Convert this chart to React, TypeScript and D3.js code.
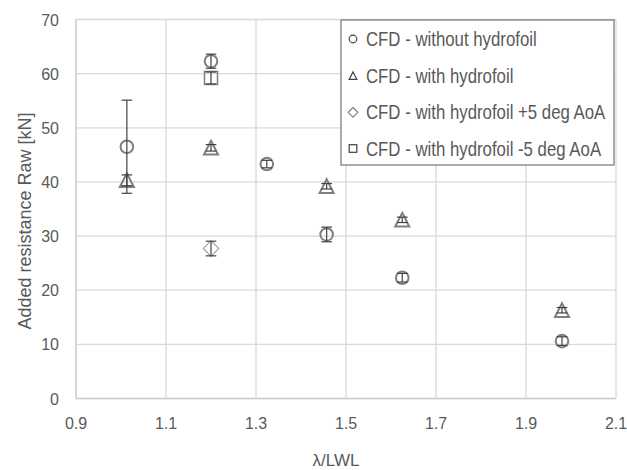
import React from "react";
import * as d3 from "d3";

const xTicks = [0.9, 1.1, 1.3, 1.5, 1.7, 1.9, 2.1];
const yTicks = [0, 10, 20, 30, 40, 50, 60, 70];

const withoutX = [1.013, 1.2, 1.324, 1.457, 1.625, 1.98];
const withoutY = [46.5, 62.3, 43.3, 30.3, 22.3, 10.6];
const withoutErr = [8.6, 1.3, 0.7, 1.35, 0.8, 0.8];

const withX = [1.013, 1.2, 1.457, 1.625, 1.98];
const withY = [40.3, 46.3, 39.2, 33.0, 16.3];
const withErr = [1.0, 0.6, 0.5, 0.5, 0.5];

const plusX = [1.2];
const plusY = [27.7];
const plusErr = [1.35];

const minusX = [1.2];
const minusY = [59.2];
const minusErr = [1.1];

const legendLabels = [
  "CFD - without hydrofoil",
  "CFD - with hydrofoil",
  "CFD - with hydrofoil +5 deg AoA",
  "CFD - with hydrofoil -5 deg AoA",
];

const W = 627;
const H = 470;
const left = 76;
const right = 616;
const top = 19.5;
const bottom = 398.5;

const FONT = "'Liberation Sans', Arial, sans-serif";
const TEXT = "#595959";
const GRID = "#d9d9d9";
const MARK = "#7f7f7f";

type Shape = "circle" | "triangle" | "diamond" | "square";

function Marker({ shape, cx, cy, s, stroke, sw }: { shape: Shape; cx: number; cy: number; s: number; stroke: string; sw: number }) {
  if (shape === "circle") return <circle cx={cx} cy={cy} r={s} fill="none" stroke={stroke} strokeWidth={sw} />;
  if (shape === "square") return <rect x={cx - s} y={cy - s} width={2 * s} height={2 * s} fill="none" stroke={stroke} strokeWidth={sw} />;
  if (shape === "diamond")
    return <path d={`M${cx},${cy - s - 1}L${cx + s + 1},${cy}L${cx},${cy + s + 1}L${cx - s - 1},${cy}Z`} fill="none" stroke={stroke} strokeWidth={sw} />;
  return <path d={`M${cx},${cy - s}L${cx + s},${cy + s * 0.95}L${cx - s},${cy + s * 0.95}Z`} fill="none" stroke={stroke} strokeWidth={sw} />;
}

export default function App() {
  const x = d3.scaleLinear().domain([0.9, 2.1]).range([left, right]);
  const y = d3.scaleLinear().domain([0, 70]).range([bottom, top]);

  const series: { shape: Shape; xs: number[]; ys: number[]; errs: number[]; stroke: string; sw: number; s: number }[] = [
    { shape: "circle", xs: withoutX, ys: withoutY, errs: withoutErr, stroke: MARK, sw: 2, s: 6.3 },
    { shape: "triangle", xs: withX, ys: withY, errs: withErr, stroke: MARK, sw: 2, s: 7 },
    { shape: "diamond", xs: plusX, ys: plusY, errs: plusErr, stroke: "#a6a6a6", sw: 1.2, s: 6.8 },
    { shape: "square", xs: minusX, ys: minusY, errs: minusErr, stroke: MARK, sw: 1.5, s: 6.5 },
  ];

  const legendShapes: Shape[] = ["circle", "triangle", "diamond", "square"];
  const legendY = [39, 75.7, 112.3, 148.5];

  return (
    <svg width={W} height={H} style={{ position: "absolute", left: 0, top: 0, background: "#fff" }} fontFamily={FONT}>
      <rect x={0} y={0} width={W} height={H} fill="#fff" />
      {xTicks.map((t) => (
        <line key={"gx" + t} x1={x(t)} x2={x(t)} y1={top} y2={bottom} stroke={GRID} strokeWidth={1.3} />
      ))}
      {yTicks.map((t) => (
        <line key={"gy" + t} x1={left} x2={right} y1={y(t)} y2={y(t)} stroke={GRID} strokeWidth={1.3} />
      ))}
      <line x1={left} x2={right} y1={bottom} y2={bottom} stroke="#d0d0d0" strokeWidth={1.5} />
      <line x1={left} x2={left} y1={top} y2={bottom} stroke="#d0d0d0" strokeWidth={1.5} />

      {yTicks.map((t) => (
        <text key={"ty" + t} x={59} y={y(t) + 6} textAnchor="end" fontSize={16} fill={TEXT}>
          {t}
        </text>
      ))}
      {xTicks.map((t) => (
        <text key={"tx" + t} x={x(t)} y={429} textAnchor="middle" fontSize={16} fill={TEXT}>
          {t.toFixed(1)}
        </text>
      ))}

      <text x={336} y={466} textAnchor="middle" fontSize={17} fill={TEXT}>
        λ/LWL
      </text>
      <text transform={`translate(31,221) rotate(-90)`} textAnchor="middle" fontSize={18} fill={TEXT}>
        Added resistance Raw [kN]
      </text>

      {series.map((sr, si) =>
        sr.xs.map((xv, i) => (
          <g key={si + "-" + i}>
            <Marker shape={sr.shape} cx={x(xv)} cy={y(sr.ys[i])} s={sr.s} stroke={sr.stroke} sw={sr.sw} />
          </g>
        ))
      )}
      {series.map((sr, si) =>
        sr.xs.map((xv, i) => {
          const cx = x(xv);
          const y1 = y(sr.ys[i] + sr.errs[i]);
          const y2 = y(sr.ys[i] - sr.errs[i]);
          return (
            <g key={"e" + si + "-" + i} stroke="#404040" strokeWidth={1.2}>
              <line x1={cx} x2={cx} y1={y1} y2={y2} />
              <line x1={cx - 5.3} x2={cx + 5.3} y1={y1} y2={y1} />
              <line x1={cx - 5.3} x2={cx + 5.3} y1={y2} y2={y2} />
            </g>
          );
        })
      )}

      <rect x={341} y={20} width={273} height={145} fill="#fff" stroke="#7f7f7f" strokeWidth={1.3} />
      {legendLabels.map((lab, i) => (
        <g key={"lg" + i}>
          <Marker shape={legendShapes[i]} cx={353} cy={legendY[i]} s={3.8} stroke={i === 2 ? "#7f7f7f" : "#404040"} sw={1.2} />
          <text transform={`translate(366,${legendY[i] + 7}) scale(0.84,1)`} fontSize={20} fill={TEXT}>
            {lab}
          </text>
        </g>
      ))}
    </svg>
  );
}
